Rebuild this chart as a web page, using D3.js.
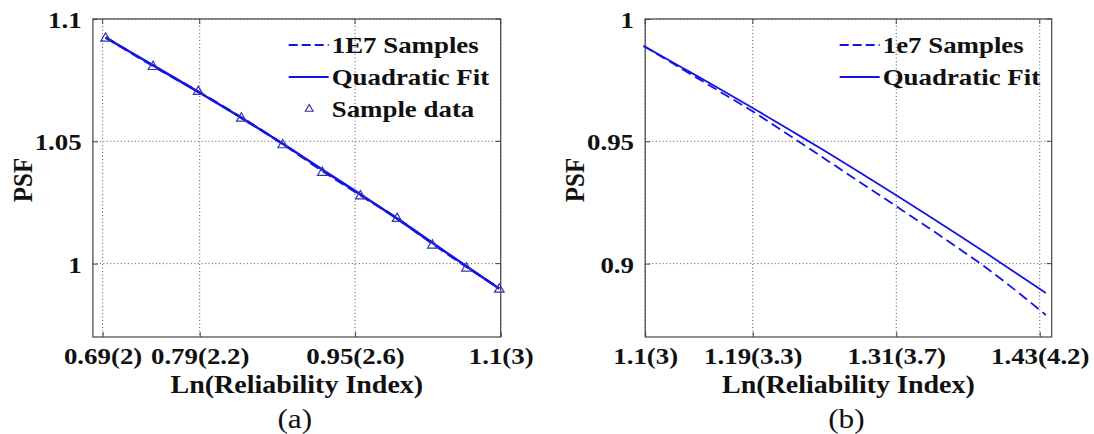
<!DOCTYPE html>
<html>
<head>
<meta charset="utf-8">
<script src="https://cdn.jsdelivr.net/npm/d3@7"></script>
<style>
  html, body { margin: 0; padding: 0; background: #fff; }
  svg { display: block; }
  text { font-family: "Liberation Serif", "Times New Roman", serif; fill: #111; }
</style>
</head>
<body>
<script>
// ---- panel (a) data ----
const xA = [0.6931, 0.7419, 0.7885, 0.8329, 0.8755, 0.9163, 0.9555, 0.9933, 1.0296, 1.0647, 1.0986];
const samplesA = [1.0925, 1.0808, 1.0703, 1.0597, 1.0489, 1.0380, 1.0280, 1.0185, 1.0082, 0.9987, 0.9899];
const fitA = [1.0924, 1.0811, 1.0702, 1.0596, 1.0490, 1.0384, 1.0283, 1.0184, 1.0085, 0.9989, 0.9897];
const pointsA = [1.0925, 1.0809, 1.0707, 1.0598, 1.0489, 1.0376, 1.0280, 1.0188, 1.0079, 0.9985, 0.9899];
const xTicksA = [0.69, 0.79, 0.95, 1.1];
const xTickLabelsA = ["0.69(2)", "0.79(2.2)", "0.95(2.6)", "1.1(3)"];
const yTicksA = [1, 1.05, 1.1];
const yTickLabelsA = ["1", "1.05", "1.1"];

// ---- panel (b) data ----
const xB = [1.0986, 1.1314, 1.1632, 1.1939, 1.2238, 1.2528, 1.2809, 1.3083, 1.3350, 1.3610, 1.3863, 1.4110, 1.4351];
const samplesB = [0.9890, 0.9794, 0.9701, 0.9610, 0.9514, 0.9420, 0.9329, 0.9240, 0.9153, 0.9066, 0.8979, 0.8886, 0.8790];
const fitB = [0.9890, 0.9800, 0.9712, 0.9625, 0.9538, 0.9453, 0.9368, 0.9285, 0.9202, 0.9120, 0.9039, 0.8959, 0.8880];
const xTicksB = [1.1, 1.19, 1.31, 1.43];
const xTickLabelsB = ["1.1(3)", "1.19(3.3)", "1.31(3.7)", "1.43(4.2)"];
const yTicksB = [0.9, 0.95, 1];
const yTickLabelsB = ["0.9", "0.95", "1"];

const width = 1094, height = 434;
const stretch = 1.12; // the figure is a bit wider than tall
const blue = "#1414e6";

const svg = d3.select("body").append("svg")
  .attr("width", width).attr("height", height)
  .attr("viewBox", [0, 0, width, height]);

function panel(cfg) {
  const x = d3.scaleLinear().domain(cfg.xDomain).range([cfg.left, cfg.right]);
  const y = d3.scaleLinear().domain(cfg.yDomain).range([cfg.bottom, cfg.top]);
  const g = svg.append("g");

  // dotted grid
  g.append("g").selectAll("line").data(cfg.xTicks).join("line")
    .attr("x1", d => x(d)).attr("x2", d => x(d))
    .attr("y1", cfg.top).attr("y2", cfg.bottom)
    .attr("stroke", "#555").attr("stroke-width", 1).attr("stroke-dasharray", "1,2.5");
  g.append("g").selectAll("line").data(cfg.yTicks).join("line")
    .attr("y1", d => y(d)).attr("y2", d => y(d))
    .attr("x1", cfg.left).attr("x2", cfg.right)
    .attr("stroke", "#555").attr("stroke-width", 1).attr("stroke-dasharray", "1,2.5");

  // axes, ticks pointing inward like matlab
  const xAxis = d3.axisBottom(x).tickValues(cfg.xTicks)
    .tickSizeInner(-5).tickSizeOuter(0).tickPadding(10)
    .tickFormat((d, i) => cfg.xTickLabels[i]);
  const yAxis = d3.axisLeft(y).tickValues(cfg.yTicks)
    .tickSizeInner(-5).tickSizeOuter(0).tickPadding(10)
    .tickFormat((d, i) => cfg.yTickLabels[i]);

  const gx = g.append("g").attr("transform", `translate(0,${cfg.bottom})`).call(xAxis);
  const gy = g.append("g").attr("transform", `translate(${cfg.left},0)`).call(yAxis);
  [gx, gy].forEach(a => {
    a.select(".domain").remove();
    a.selectAll(".tick line").attr("stroke", "#444");
    a.selectAll("text")
      .attr("fill", "#111")
      .style("font-size", "24px").style("font-weight", "bold")
      .style("font-family", "'Liberation Serif', serif")
      .attr("transform", `scale(${stretch},1)`);
  });
  gx.selectAll("text").attr("dy", "0.71em");
  gy.selectAll("text").attr("dy", "0.36em");

  // ticks on top and right too
  g.append("g").selectAll("line").data(cfg.xTicks).join("line")
    .attr("x1", d => x(d)).attr("x2", d => x(d))
    .attr("y1", cfg.top).attr("y2", cfg.top + 5).attr("stroke", "#444");
  g.append("g").selectAll("line").data(cfg.yTicks).join("line")
    .attr("y1", d => y(d)).attr("y2", d => y(d))
    .attr("x1", cfg.right).attr("x2", cfg.right - 5).attr("stroke", "#444");

  // box
  g.append("rect")
    .attr("x", cfg.left).attr("y", cfg.top)
    .attr("width", cfg.right - cfg.left).attr("height", cfg.bottom - cfg.top)
    .attr("fill", "none").attr("stroke", "#444").attr("stroke-width", 1.2);

  const line = d3.line().x(d => x(d[0])).y(d => y(d[1])).curve(d3.curveMonotoneX);

  // quadratic fit (solid) and 1e7 samples (dashed)
  g.append("path")
    .datum(d3.zip(cfg.xs, cfg.fit))
    .attr("fill", "none").attr("stroke", blue)
    .attr("stroke-width", cfg.lineWidth)
    .attr("d", line);
  g.append("path")
    .datum(d3.zip(cfg.xs, cfg.samples))
    .attr("fill", "none").attr("stroke", blue)
    .attr("stroke-width", cfg.lineWidth)
    .attr("stroke-dasharray", "10,5")
    .attr("d", line);

  if (cfg.points) {
    g.append("g").selectAll("path").data(d3.zip(cfg.xs, cfg.points)).join("path")
      .attr("transform", d => `translate(${x(d[0])},${y(d[1]) + 1})`)
      .attr("d", d3.symbol(d3.symbolTriangle, 40))
      .attr("fill", "none").attr("stroke", "#3535a8").attr("stroke-width", 1.2);
  }

  // legend
  const lx = cfg.right - 212, tx = cfg.right - 169;
  const legend = g.append("g");
  cfg.legend.forEach((item, i) => {
    const ly = cfg.top + 26 + i * 32;
    if (item.kind === "dash" || item.kind === "solid") {
      legend.append("line")
        .attr("x1", lx).attr("x2", tx - 3).attr("y1", ly).attr("y2", ly)
        .attr("stroke", blue).attr("stroke-width", 1.8)
        .attr("stroke-dasharray", item.kind === "dash" ? "9,4" : null);
    } else {
      legend.append("path")
        .attr("transform", `translate(${(lx + tx) / 2 - 1},${ly})`)
        .attr("d", d3.symbol(d3.symbolTriangle, 26))
        .attr("fill", "none").attr("stroke", "#3535a8").attr("stroke-width", 1.2);
    }
    legend.append("text")
      .attr("transform", `translate(${tx},${ly + 8}) scale(${stretch},1)`)
      .style("font-size", "24px").style("font-weight", "bold")
      .text(item.label);
  });

  const cx = (cfg.left + cfg.right) / 2;
  // x label
  g.append("text")
    .attr("transform", `translate(${cx},${cfg.bottom + 56}) scale(${stretch},1)`)
    .attr("text-anchor", "middle")
    .style("font-size", "25px").style("font-weight", "bold")
    .text("Ln(Reliability Index)");
  // y label
  g.append("text")
    .attr("transform", `translate(${cfg.left - 61},${(cfg.top + cfg.bottom) / 2 + 2}) scale(${stretch},1) rotate(-90)`)
    .attr("text-anchor", "middle")
    .style("font-size", "25px").style("font-weight", "bold")
    .text("PSF");
  // caption
  g.append("text")
    .attr("transform", `translate(${cx - 2},${height - 6}) scale(${stretch},1)`)
    .attr("text-anchor", "middle")
    .style("font-size", "28px")
    .text(cfg.caption);
}

panel({
  left: 92.9, right: 500.7, top: 19, bottom: 337,
  xDomain: [0.68, 1.1], yDomain: [0.97, 1.1],
  xTicks: xTicksA, xTickLabels: xTickLabelsA,
  yTicks: yTicksA, yTickLabels: yTickLabelsA,
  xs: xA, fit: fitA, samples: samplesA, points: pointsA,
  lineWidth: 2.5,
  legend: [
    { kind: "dash", label: "1E7 Samples" },
    { kind: "solid", label: "Quadratic Fit" },
    { kind: "tri", label: "Sample data" }
  ],
  caption: "(a)"
});

panel({
  left: 645.2, right: 1051.7, top: 19, bottom: 337,
  xDomain: [1.1, 1.44], yDomain: [0.87, 1],
  xTicks: xTicksB, xTickLabels: xTickLabelsB,
  yTicks: yTicksB, yTickLabels: yTickLabelsB,
  xs: xB, fit: fitB, samples: samplesB, points: null,
  lineWidth: 1.8,
  legend: [
    { kind: "dash", label: "1e7 Samples" },
    { kind: "solid", label: "Quadratic Fit" }
  ],
  caption: "(b)"
});
</script>
</body>
</html>
